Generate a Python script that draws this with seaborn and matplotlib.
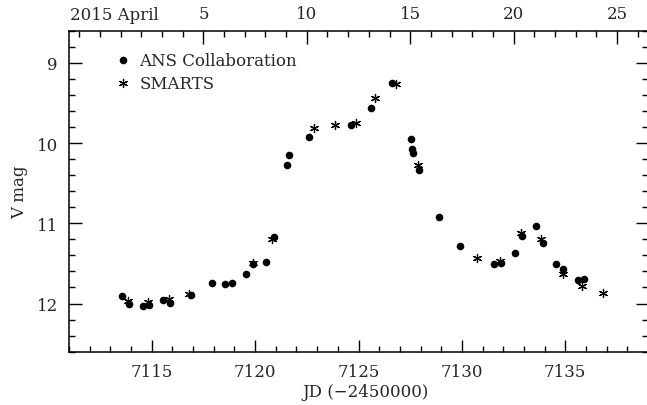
import numpy as np
import pandas as pd
import seaborn as sns
import matplotlib
matplotlib.use("Agg")
import matplotlib.pyplot as plt
from matplotlib.ticker import MultipleLocator, FixedLocator


# V magnitudes (JD - 2450000)
ans_jd = [7113.57, 7113.91, 7114.60, 7114.89, 7115.53, 7115.90, 7116.90, 7117.92,
          7118.56, 7118.90, 7119.55, 7119.88, 7120.55, 7120.90, 7121.55, 7121.64,
          7122.59, 7124.63, 7125.61, 7126.62, 7127.54, 7127.59, 7127.64, 7127.93,
          7128.91, 7129.93, 7131.57, 7131.91, 7132.56, 7132.91, 7133.59, 7133.91,
          7134.55, 7134.91, 7135.59, 7135.92]
ans_v = [11.91, 12.00, 12.03, 12.02, 11.955, 11.99, 11.89, 11.75,
         11.755, 11.74, 11.63, 11.51, 11.48, 11.17, 10.27, 10.15,
         9.92, 9.78, 9.56, 9.25, 9.95, 10.07, 10.125, 10.34,
         10.92, 11.285, 11.51, 11.49, 11.37, 11.16, 11.04, 11.25,
         11.51, 11.565, 11.71, 11.70]

smarts_jd = [7113.87, 7114.81, 7115.82, 7116.79, 7119.88, 7120.80, 7122.83, 7123.85,
             7124.86, 7125.82, 7126.82, 7127.88, 7130.75, 7131.85, 7132.85, 7133.83,
             7134.88, 7135.81, 7136.81]
smarts_v = [11.97, 11.975, 11.94, 11.885, 11.49, 11.19, 9.815, 9.78,
            9.75, 9.435, 9.27, 10.27, 11.435, 11.47, 11.12, 11.19,
            11.63, 11.78, 11.87]

# top axis: calendar days of 2015 April (April 1.0 = JD 2457113.5)
april_days = [5, 10, 15, 20, 25]
april_start = 7112.5

ans = pd.DataFrame({"jd": ans_jd, "v": ans_v})
smarts = pd.DataFrame({"jd": smarts_jd, "v": smarts_v})

sns.set_style("ticks")
plt.rcParams["font.family"] = ["DejaVu Serif"]
plt.rcParams["mathtext.fontset"] = "dejavuserif"

fig = plt.figure(figsize=(6.47, 4.06), dpi=100)
ax = fig.add_axes([0.1066, 0.1313, 0.8950, 0.7907])

sns.scatterplot(data=ans, x="jd", y="v", ax=ax, marker="o", s=30,
                color="black", edgecolor="black", linewidth=0,
                label="ANS Collaboration", zorder=3)
sns.scatterplot(data=smarts, x="jd", y="v", ax=ax, marker=(6, 2, 0), s=34,
                color="black", edgecolor="black", linewidth=0.9,
                label="SMARTS", zorder=4)

ax.set_xlim(7111, 7139)
ax.set_ylim(12.6, 8.6)

ax.xaxis.set_major_locator(MultipleLocator(5))
ax.xaxis.set_minor_locator(MultipleLocator(1))
ax.yaxis.set_major_locator(MultipleLocator(1))
ax.yaxis.set_minor_locator(MultipleLocator(0.2))

ax.tick_params(which="both", direction="in", top=False, right=True,
               width=1, color="black", labelsize=12)
ax.tick_params(which="major", length=9, pad=8)
ax.tick_params(which="minor", length=4.5)

ax.set_xlabel("JD (\u22122450000)", fontsize=12)
ax.set_ylabel("V mag", fontsize=12)
ax.xaxis.set_label_coords(0.513, -0.097)
ax.yaxis.set_label_coords(-0.07, 0.5)

for sp in ax.spines.values():
    sp.set_linewidth(1.1)
    sp.set_color("black")

# date axis on top
top = ax.twiny()
top.set_xlim(ax.get_xlim())
top.xaxis.set_major_locator(FixedLocator([april_start + d for d in april_days]))
top.xaxis.set_minor_locator(FixedLocator(np.arange(7111.5, 7139, 1.0)))
top.set_xticklabels([str(d) for d in april_days])
top.tick_params(which="both", direction="in", labelsize=12, color="black", width=1)
top.tick_params(which="major", length=9, pad=6)
top.tick_params(which="minor", length=4.5)
for sp in top.spines.values():
    sp.set_visible(False)
fig.text(0.108, 0.962, "2015 April", fontsize=12, ha="left", va="center")

leg = ax.legend(loc="upper left", frameon=False, fontsize=12, handlelength=0.8,
                handletextpad=0.6, labelspacing=0.35, borderaxespad=0.0,
                bbox_to_anchor=(0.07, 0.955))

fig.savefig("out.png", dpi=100)
